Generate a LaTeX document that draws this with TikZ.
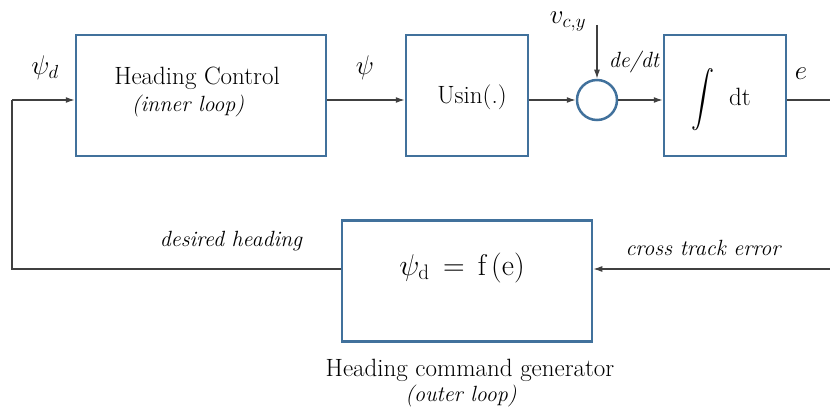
\RequirePackage{fix-cm}
\documentclass[tikz,border=0pt]{standalone}
\usepackage{fontspec}
\usepackage{graphicx}
\usetikzlibrary{arrows.meta,calc}
\definecolor{boxblue}{HTML}{41719C}
\definecolor{linegray}{HTML}{404040}
\begin{document}
\begin{tikzpicture}[x=1pt,y=-1pt,
  blk/.style={draw=boxblue,line width=2.5pt,minimum width=250pt,minimum height=121pt,inner sep=0pt},
  sblk/.style={blk,minimum width=122pt},
  sumc/.style={draw=boxblue,line width=2.5pt,circle,minimum size=40pt,inner sep=0pt},
  wire/.style={draw=linegray,line width=1.3pt},
  arr/.style={wire,-{Latex[length=9pt,width=6pt]}},
  lbl/.style={font=\fontsize{25}{29}\selectfont,inner sep=0pt},
  ilbl/.style={font=\fontsize{22}{26}\selectfont\itshape,inner sep=0pt},
  mlbl/.style={font=\fontsize{27}{31}\selectfont,inner sep=0pt}]
\useasboundingbox (0,0) rectangle (830,409);
\node[blk] (hc) at (201,95.5) {};
\node[sblk] (us) at (467,95.5) {};
\node[sumc] (sm) at (597,100) {};
\node[sblk] (in) at (725,95.5) {};
\node[blk] (gen) at (467,281) {};
\coordinate (out) at (830,100);
\coordinate (vin) at (597,25);
\coordinate (fbR) at (830,269);
\coordinate (fbL) at (12,269);
\coordinate (fbT) at (12,100);
% texts
\node[lbl] at (197,78) {Heading Control};
\node[ilbl] at (188,106) {(inner loop)};
\node[lbl] at (472,97) {Usin(.)};
\node[mlbl] at (45,68) {$\psi_d$};
\node[mlbl] at (365,68) {$\psi$};
\node[mlbl] at (568,22) {$v_{c,y}$};
\node[ilbl] at (634,62) {de/dt};
\node[mlbl] at (801,74) {$e$};
\node[lbl] at (703,100) {\scalebox{2.3}[2.8]{\fontsize{10}{12}\selectfont$\displaystyle\int$}};
\node[lbl] at (740,97) {dt};
\node[ilbl] at (231,241) {desired heading};
\node[ilbl] at (703,248) {cross track error};
\node[font=\fontsize{30}{34}\selectfont,inner sep=0pt] at (462,268) {$\psi_{\mathrm{d}}\,=\,\mathrm{f\,(e)}$};
\node[lbl] at (470,370) {Heading command generator};
\node[ilbl] at (461,396) {(outer loop)};
% connectors
\draw[arr] ([yshift=-4.5pt]hc.east) -- ([yshift=-4.5pt]us.west);
\draw[arr] ([yshift=-4.5pt]us.east) -- (sm.west);
\draw[arr] (sm.east) -- ([yshift=-4.5pt]in.west);
\draw[wire] ([yshift=-4.5pt]in.east) -- (out);
\draw[arr] (vin) -- (sm.north);
\draw[arr] (fbR) -- (gen.east |- fbR);
\draw[wire] (gen.west |- fbL) -- (fbL) -- (fbT);
\draw[arr] (fbT) -- ([yshift=-4.5pt]hc.west);
\end{tikzpicture}
\end{document}
